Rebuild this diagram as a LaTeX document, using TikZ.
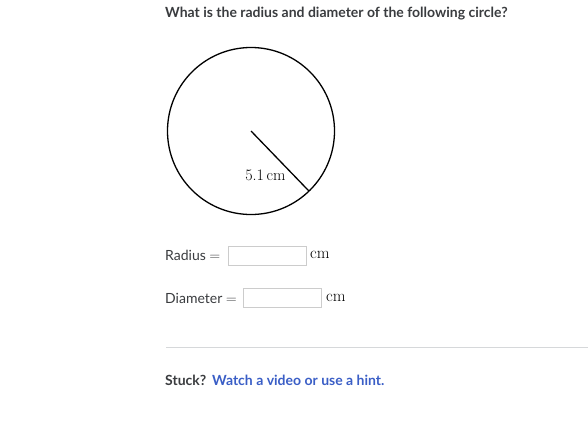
\documentclass[tikz,border=0pt]{standalone}
\usepackage{fontspec}
\newfontfamily\latofont{Lato}
\definecolor{txt}{HTML}{3A3C3F}
\definecolor{linkblue}{HTML}{3A5EC6}
\definecolor{boxgray}{HTML}{CCCCCC}
\definecolor{rulegray}{HTML}{D6D8DA}
\begin{document}
\begin{tikzpicture}[x=1pt,y=-1pt,
  ui/.style={inner sep=0pt,font=\latofont\fontsize{14}{16}\selectfont,text=txt},
  uibold/.style={ui,font=\latofont\bfseries\fontsize{14}{16}\selectfont},
  answerbox/.style={draw=boxgray,line width=0.8pt,minimum width=78pt,minimum height=19pt,inner sep=0pt},
  unit/.style={inner sep=0pt,font=\fontsize{16.5}{18}\selectfont}]
\useasboundingbox (0,0) rectangle (588,426);
\node[uibold,anchor=west] (title) at (165,14) {What is the radius and diameter of the following circle?};
\coordinate (c) at (251,131);
\coordinate (rend) at (309,191.1);
\draw[line width=1.3pt] (c) circle (83.5pt);
\draw[line width=1.3pt] (c) -- (rend);
\node[unit,font=\fontsize{16}{18}\selectfont] (rl) at (265.5,175) {5.1\,cm};
\node[ui,anchor=west] (rad) at (165,255) {Radius $=$};
\node[answerbox,anchor=west] (rbox) at (228,255.5) {};
\node[unit,anchor=west] (rcm) at (310,255) {cm};
\node[ui,anchor=west] (dia) at (165,298) {Diameter $=$};
\node[answerbox,anchor=west] (dbox) at (243,298) {};
\node[unit,anchor=west] (dcm) at (326,298) {cm};
\coordinate (l1) at (166,347.5);
\coordinate (l2) at (588,347.5);
\draw[rulegray,line width=0.8pt] (l1) -- (l2);
\node[uibold,anchor=west] (stuck) at (165,380) {Stuck?};
\node[uibold,anchor=west,text=linkblue] (hint) at (212,380) {Watch a video or use a hint.};
\end{tikzpicture}
\end{document}
